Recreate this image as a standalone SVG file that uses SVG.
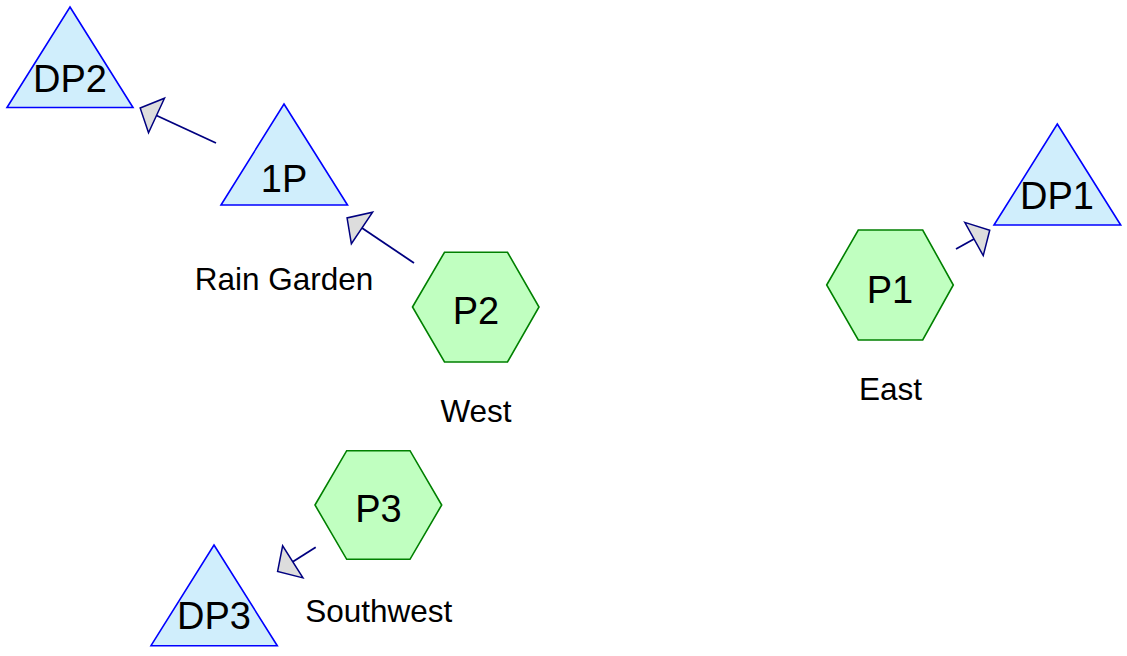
<svg xmlns="http://www.w3.org/2000/svg" width="1127" height="656" viewBox="0 0 1127 656">
<defs>
<marker id="ah" markerUnits="userSpaceOnUse" markerWidth="24" markerHeight="44" viewBox="-2 -22 24 44" refX="0" refY="0" orient="auto" overflow="visible">
<path d="M0,-19 L18,0 L0,19 Z" fill="#dddddd" stroke="#000080" stroke-width="1.5" stroke-linejoin="miter"/>
</marker>
<style>
.tri{fill:#d0eefc;stroke:#0000ff;stroke-width:1.6}
.hex{fill:#c0ffc0;stroke:#008000;stroke-width:1.6}
.nt{font-family:"Liberation Sans",Arial,sans-serif;font-size:38px;fill:#000;text-anchor:middle}
.lb{font-family:"Liberation Sans",Arial,sans-serif;font-size:31.5px;fill:#000;text-anchor:middle}
.cn{stroke:#000080;stroke-width:1.8;fill:none;marker-end:url(#ah)}
</style>
</defs>
<rect width="1127" height="656" fill="#ffffff"/>
<g id="connectors">
<line class="cn" x1="216" y1="143" x2="156.5" y2="115.5"/>
<line class="cn" x1="414" y1="263" x2="362" y2="228"/>
<line class="cn" x1="956" y1="249" x2="974" y2="239"/>
<line class="cn" x1="315.7" y1="547.3" x2="292.8" y2="561.8"/>
</g>
<g id="DP2">
<polygon class="tri" points="70,7 133,107.5 7,107.5"/>
<text class="nt" x="70" y="92">DP2</text>
</g>
<g id="1P">
<polygon class="tri" points="284,104 347.5,205 221,205"/>
<text class="nt" x="284" y="192">1P</text>
<text class="lb" x="284" y="290">Rain Garden</text>
</g>
<g id="P2">
<polygon class="hex" points="412.5,307 444.5,252.3 507.5,252.3 539,307 507.5,362 444.5,362"/>
<text class="nt" x="476" y="324">P2</text>
<text class="lb" x="476" y="422">West</text>
</g>
<g id="P1">
<polygon class="hex" points="826.7,285 858.3,230 922.7,230 953.3,285 922.7,340 858.3,340"/>
<text class="nt" x="890" y="302.5">P1</text>
<text class="lb" x="890.5" y="400">East</text>
</g>
<g id="DP1">
<polygon class="tri" points="1057.3,124 1120.7,225 994,225"/>
<text class="nt" x="1057" y="209">DP1</text>
</g>
<g id="P3">
<polygon class="hex" points="315,505 346.7,450.7 410,450.7 441.7,505 410,559.3 346.7,559.3"/>
<text class="nt" x="378.5" y="521.7">P3</text>
<text class="lb" x="378.7" y="622">Southwest</text>
</g>
<g id="DP3">
<polygon class="tri" points="214,545 277.3,645.7 151,645.7"/>
<text class="nt" x="214" y="629">DP3</text>
</g>
</svg>
